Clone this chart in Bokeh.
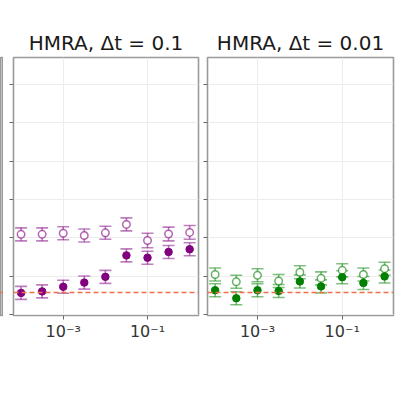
from bokeh.plotting import figure
from bokeh.models import (Range1d, FixedTicker, Whisker, TeeHead, ColumnDataSource,
                          Span, CustomJSTickFormatter)
from bokeh.layouts import row
from bokeh.embed import file_html
from bokeh.resources import INLINE

# ---- data ----
dt_values = [1e-4, 3.16e-4, 1e-3, 3.16e-3, 1e-2, 3.16e-2, 1e-1, 3.16e-1, 1.0]

p1_open = [2.09, 2.09, 2.12, 2.06, 2.13, 2.35, 1.93, 2.10, 2.14]
p1_open_err = [0.17, 0.17, 0.17, 0.17, 0.17, 0.17, 0.19, 0.18, 0.18]
p1_fill = [0.56, 0.60, 0.72, 0.83, 0.98, 1.54, 1.48, 1.63, 1.70]
p1_fill_err = [0.17, 0.17, 0.17, 0.17, 0.17, 0.17, 0.17, 0.17, 0.17]

p2_open = [1.04, 0.85, 1.02, 0.87, 1.10, 0.94, 1.15, 1.04, 1.19]
p2_open_err = [0.17, 0.17, 0.17, 0.17, 0.17, 0.17, 0.17, 0.17, 0.17]
p2_fill = [0.63, 0.42, 0.63, 0.61, 0.86, 0.73, 0.97, 0.82, 0.99]
p2_fill_err = [0.17, 0.17, 0.17, 0.17, 0.17, 0.17, 0.17, 0.17, 0.17]

reference_level = 0.57

x_tick_values = [1e-3, 1e-1]
x_tick_labels = ["10\u207b\u00b3", "10\u207b\u00b9"]
y_tick_values = [0, 1, 2, 3, 4, 5, 6]

titles = ["HMRA, \u0394t = 0.1", "HMRA, \u0394t = 0.01"]
colors = ["purple", "green"]

X_LO, X_HI = 10 ** -4.18, 10 ** 0.21
Y_LO, Y_HI = -0.03, 6.71

FRAME_TOP = 57
FRAME_H = 258


def add_series(p, ys, errs, color, filled):
    lo = [y - e for y, e in zip(ys, errs)]
    up = [y + e for y, e in zip(ys, errs)]
    src = ColumnDataSource(dict(x=dt_values, y=ys, lo=lo, up=up))
    w = Whisker(base="x", lower="lo", upper="up", source=src,
                line_color=color, line_alpha=0.5, line_width=1.6,
                upper_head=TeeHead(size=12, line_color=color, line_alpha=0.5, line_width=1.6),
                lower_head=TeeHead(size=12, line_color=color, line_alpha=0.5, line_width=1.6))
    p.add_layout(w)
    if filled:
        p.scatter("x", "y", source=src, marker="circle", size=7.5,
                  fill_color=color, line_color=color)
    else:
        p.scatter("x", "y", source=src, marker="circle", size=7.5,
                  fill_color="white", line_color=color, line_alpha=0.6, line_width=1.5)


def make_panel(title, color, open_y, open_e, fill_y, fill_e, fw, mbl, mbr):
    p = figure(x_axis_type="log", frame_width=fw, frame_height=FRAME_H,
               x_range=Range1d(X_LO, X_HI), y_range=Range1d(Y_LO, Y_HI),
               output_backend="svg", toolbar_location=None,
               min_border_left=mbl, min_border_right=mbr,
               min_border_top=FRAME_TOP, min_border_bottom=45,
               background_fill_color="white", border_fill_color="white")
    p.title.text = title
    p.title.align = "center"
    p.title.text_font = "DejaVu Sans"
    p.title.text_font_size = "20px"
    p.title.text_font_style = "normal"
    p.title.text_color = "#1a1a1a"
    p.title.standoff = 6

    p.outline_line_color = "#9a9a9a"
    p.outline_line_width = 1.6

    p.xaxis.ticker = FixedTicker(ticks=x_tick_values)
    p.xaxis.formatter = CustomJSTickFormatter(
        args=dict(tvals=x_tick_values, tlabels=x_tick_labels),
        code="""
        for (let i = 0; i < tvals.length; i++) {
            if (Math.abs(Math.log10(tvals[i]) - Math.log10(tick)) < 1e-6) return tlabels[i];
        }
        return '';
        """)
    p.xaxis.major_label_text_font = "DejaVu Sans"
    p.xaxis.major_label_text_font_size = "16px"
    p.xaxis.major_label_text_color = "#333333"
    p.xaxis.major_label_standoff = 2
    p.xaxis.axis_line_color = None
    p.xaxis.major_tick_line_color = "#666666"
    p.xaxis.major_tick_in = 0
    p.xaxis.major_tick_out = 4
    p.xaxis.minor_tick_line_color = None

    p.yaxis.ticker = FixedTicker(ticks=y_tick_values)
    p.yaxis.formatter = CustomJSTickFormatter(code="return '';")
    p.yaxis.major_label_standoff = 0
    p.yaxis.axis_line_color = None
    p.yaxis.major_tick_line_color = "#666666"
    p.yaxis.major_tick_in = 0
    p.yaxis.major_tick_out = 4
    p.yaxis.minor_tick_line_color = None

    p.xgrid.grid_line_color = "#ececec"
    p.ygrid.grid_line_color = "#ececec"
    p.xgrid.ticker = FixedTicker(ticks=x_tick_values)

    add_series(p, open_y, open_e, color, False)
    add_series(p, fill_y, fill_e, color, True)

    p.add_layout(Span(location=reference_level, dimension="width",
                      line_color="#ef6f4a", line_dash="5 3", line_width=1.6))
    return p


# sliver of the neighbouring panel on the left edge
p_edge = figure(frame_width=3, frame_height=FRAME_H,
                x_range=Range1d(0, 1), y_range=Range1d(Y_LO, Y_HI),
                x_axis_location=None, y_axis_location=None,
                output_backend="svg", toolbar_location=None,
                min_border_left=0, min_border_right=0,
                min_border_top=FRAME_TOP, min_border_bottom=45)
p_edge.grid.grid_line_color = None
p_edge.outline_line_color = "#9a9a9a"
p_edge.outline_line_width = 1.6
p_edge.add_layout(Span(location=reference_level, dimension="width",
                       line_color="#ef6f4a", line_dash="5 3", line_width=1.6))

p_a = make_panel(titles[0], colors[0], p1_open, p1_open_err, p1_fill, p1_fill_err, 185, 10, 4)
p_b = make_panel(titles[1], colors[1], p2_open, p2_open_err, p2_fill, p2_fill_err, 186, 5, 3)

layout = row(p_edge, p_a, p_b, spacing=0)
open("out.html", "w").write(file_html(layout, INLINE))
